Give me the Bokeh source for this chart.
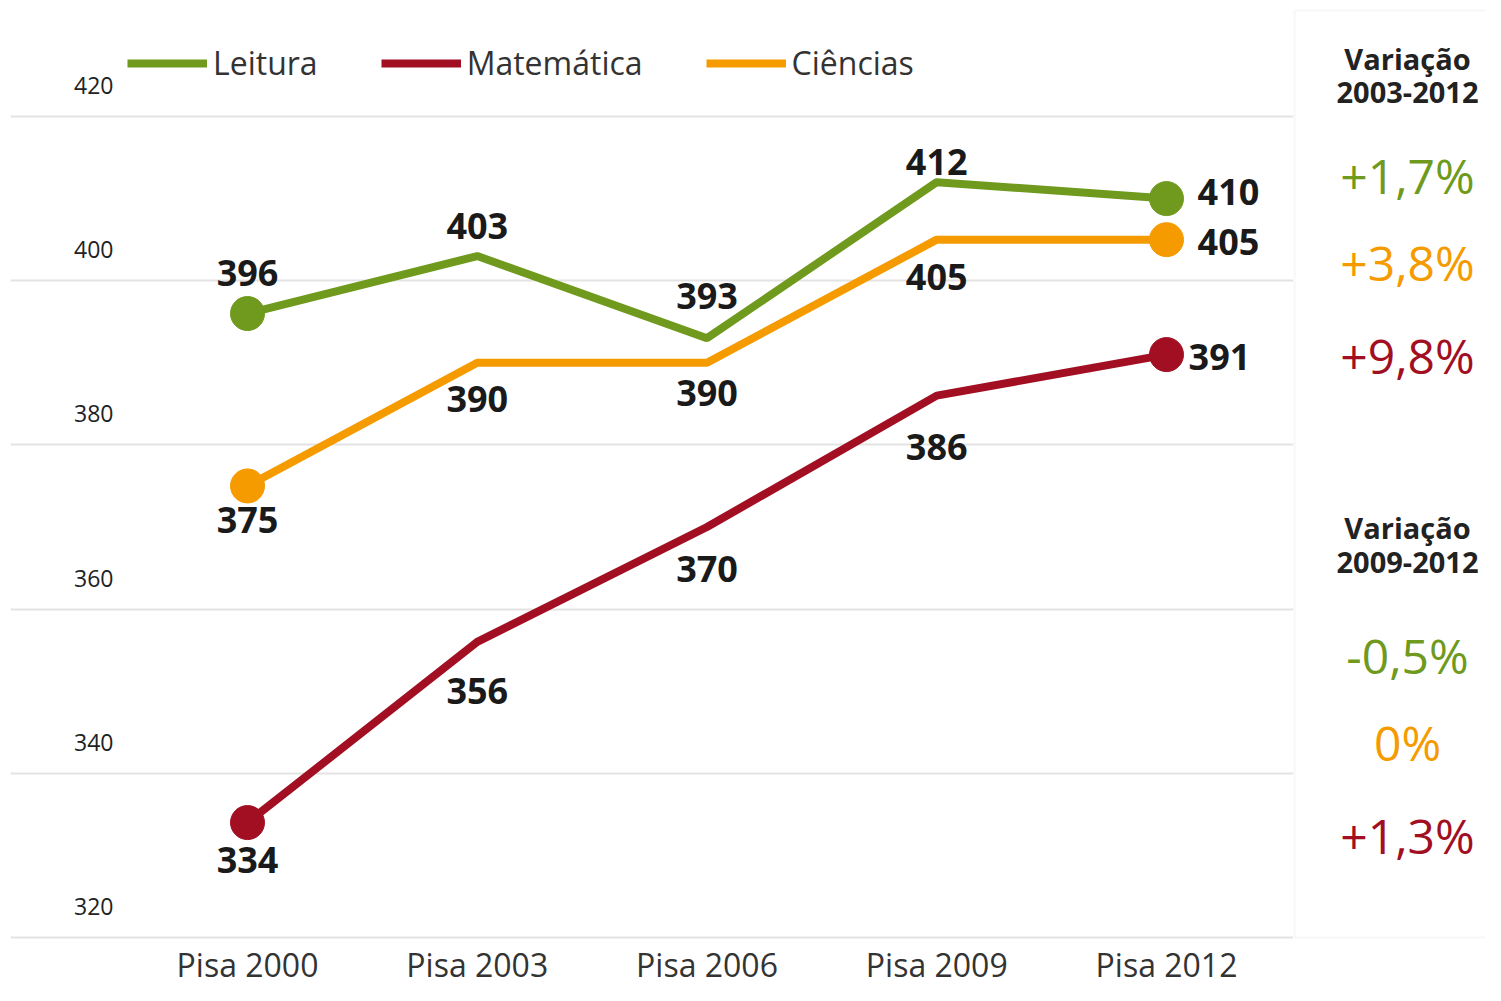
from bokeh.plotting import figure
from bokeh.models import (Range1d, Grid, FixedTicker, Legend, LegendItem,
                          ColumnDataSource, BoxAnnotation)
from bokeh.layouts import row
from bokeh.embed import file_html
from bokeh.resources import INLINE
from bokeh.core.properties import value

# ---------------- data ----------------
categories = ["Pisa 2000", "Pisa 2003", "Pisa 2006", "Pisa 2009", "Pisa 2012"]
leitura = [396, 403, 393, 412, 410]
matematica = [334, 356, 370, 386, 391]
ciencias = [375, 390, 390, 405, 405]
y_ticks = [320, 340, 360, 380, 400, 420]
header_2003 = ["Variação", "2003-2012"]
header_2009 = ["Variação", "2009-2012"]
var_2003_2012 = ["+1,7%", "+3,8%", "+9,8%"]   # Leitura, Ciências, Matemática
var_2009_2012 = ["-0,5%", "0%", "+1,3%"]

GREEN, RED, ORANGE = "#6f9a1d", "#a20f22", "#f59b00"
FONT = "Open Sans"
GRID = "#e3e3e3"

x = list(range(len(categories)))

W_MAIN, W_PANEL, H = 1293, 192, 985
LEFT = 10

p = figure(width=W_MAIN, height=H,
           x_range=Range1d(-1.0316, 4.5528), y_range=Range1d(314.154, 434.129),
           x_axis_type=None, y_axis_type=None,
           output_backend="svg", toolbar_location=None,
           min_border=0, min_border_left=LEFT, min_border_right=0,
           min_border_top=0, min_border_bottom=0)
p.outline_line_color = None
p.background_fill_color = "white"
p.border_fill_color = "white"
p.add_layout(Grid(dimension=1, ticker=FixedTicker(ticks=y_ticks),
                  grid_line_color=GRID, grid_line_width=2))

# y tick labels (sit above their grid lines)
p.text(x=-0.5832, y=y_ticks, text=[str(t) for t in y_ticks],
       text_align="right", text_baseline="middle", y_offset=-31,
       text_font=value(FONT), text_font_size="23px", text_color="#222222")

# x category labels
p.text(x=x, y=[y_ticks[0]] * len(x), text=categories,
       text_align="center", text_baseline="middle", y_offset=27,
       text_font=value(FONT), text_font_size="32px", text_color="#333333")

series = [
    ("Leitura", leitura, GREEN,
     [0, 0, 0, 0, 62], [-41, -30, -42, -20, -7]),
    ("Matemática", matematica, RED,
     [0, 0, 0, 0, 53], [37, 49, 42, 51, 2]),
    ("Ciências", ciencias, ORANGE,
     [0, 0, 0, 0, 62], [34, 36, 30, 37, 2]),
]

items = []
for name, vals, col, dx, dy in series:
    r = p.line(x, vals, line_width=8, line_color=col)
    p.scatter([x[0], x[-1]], [vals[0], vals[-1]], size=34,
              fill_color=col, line_color=col)
    items.append(LegendItem(label=name, renderers=[r]))

for name, vals, col, dx, dy in series:
    src = ColumnDataSource(dict(x=x, y=vals, t=[str(v) for v in vals], dx=dx, dy=dy))
    p.text(x="x", y="y", text="t", x_offset="dx", y_offset="dy", source=src,
           text_align="center", text_baseline="middle",
           text_font=value(FONT), text_font_size="36px", text_font_style="bold",
           text_color="#1a1a1a")

legend = Legend(items=items, orientation="horizontal",
                location=(127 - LEFT, H - 42 - 42),
                glyph_width=80, glyph_height=42, label_standoff=6, spacing=63,
                padding=0, margin=0, border_line_color=None,
                background_fill_alpha=0,
                label_text_font=FONT, label_text_font_size="32px",
                label_text_color="#333333", label_text_baseline="middle")
p.add_layout(legend)

# ---------------- right panel ----------------
q = figure(width=W_PANEL, height=H,
           x_range=Range1d(0, W_PANEL), y_range=Range1d(H, 0),
           x_axis_type=None, y_axis_type=None,
           output_backend="svg", toolbar_location=None,
           min_border=0, min_border_left=0, min_border_right=0,
           min_border_top=0, min_border_bottom=0)
q.outline_line_color = None
q.add_layout(BoxAnnotation(left=1, right=W_PANEL + 60, top=10, bottom=937,
                           fill_alpha=0, line_color=GRID, line_width=2))

cx = 114
q.text(x=[cx, cx], y=[58, 92], text=header_2003, text_align="center",
       text_baseline="middle", text_font=value(FONT), text_font_size="29px",
       text_font_style="bold", text_color="#222222")
q.text(x=[cx, cx], y=[527, 562], text=header_2009, text_align="center",
       text_baseline="middle", text_font=value(FONT), text_font_size="29px",
       text_font_style="bold", text_color="#222222")
q.text(x=[cx] * 3, y=[175, 262, 355], text=var_2003_2012,
       text_color=[GREEN, ORANGE, RED], text_align="center",
       text_baseline="middle", text_font=value(FONT), text_font_size="48px")
q.text(x=[cx] * 3, y=[655, 742, 835], text=var_2009_2012,
       text_color=[GREEN, ORANGE, RED], text_align="center",
       text_baseline="middle", text_font=value(FONT), text_font_size="48px")

layout = row(p, q)
open("out.html", "w").write(file_html(layout, INLINE))
